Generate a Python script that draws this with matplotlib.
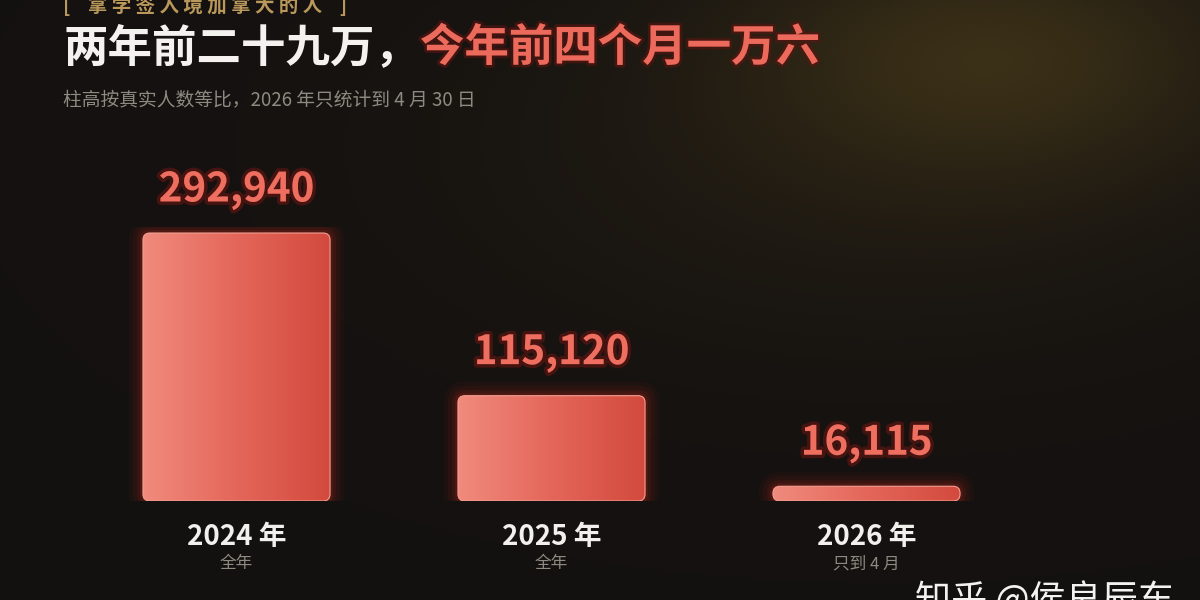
import numpy as np
import matplotlib
matplotlib.use("Agg")
import matplotlib.pyplot as plt
from matplotlib.patches import FancyBboxPatch
import matplotlib.patheffects as pe

plt.rcParams['font.family'] = ['Noto Sans CJK SC', 'DejaVu Sans']

# data
years = ["2024 年", "2025 年", "2026 年"]
notes = ["全年", "全年", "只到 4 月"]
counts = [292940, 115120, 16115]

fig = plt.figure(figsize=(12, 6), dpi=100)
fig.patch.set_facecolor("#141110")

# background with a soft golden glow top right
bg = fig.add_axes([0, 0, 1, 1])
bg.set_axis_off()
gx, gy = np.meshgrid(np.linspace(0, 1200, 300), np.linspace(0, 600, 150))
glow = np.exp(-(((gx - 1000) / 240) ** 2 + ((gy - 50) / 120) ** 2))
glow2 = np.exp(-(((gx - 880) / 420) ** 2 + ((gy - 150) / 200) ** 2))
base = np.array([0.078, 0.067, 0.063])
gold = np.array([0.27, 0.22, 0.10])
img = base + glow[..., None] * (gold - base) * 0.6 + glow2[..., None] * (gold - base) * 0.25
bg.imshow(np.clip(img, 0, 1), extent=[0, 1200, 600, 0], aspect="auto")
bg.set_xlim(0, 1200)
bg.set_ylim(600, 0)

# bar axes
ax = fig.add_axes([79 / 1200, 99 / 600, 945 / 1200, 274.45 / 600])
ax.set_axis_off()
ax.set_xlim(-0.5, 2.5)
ax.set_ylim(0, 300000)
x = np.arange(len(counts))
bars = ax.bar(x, counts, width=0.594, color="none")

px_x = 945 / 3
px_y = 274.45 / 300000
asp = px_x / px_y
grad = np.linspace(0, 1, 256)[None, :]
cmap = matplotlib.colors.LinearSegmentedColormap.from_list("bar", ["#f08b7d", "#e4665a", "#d24a3d"])

for b, v in zip(bars, counts):
    bx, by, bw, bh = b.get_x(), b.get_y(), b.get_width(), b.get_height()
    r = 7 / px_x
    # glow
    for k, a in [(14, 0.06), (10, 0.08), (6, 0.12), (3, 0.18)]:
        p = k / px_x
        g = FancyBboxPatch((bx, by), bw, bh, boxstyle=f"round,pad={p},rounding_size={r + p}",
                           mutation_aspect=asp, fc="#b0261c", ec="none", alpha=a, zorder=1)
        ax.add_patch(g)
    patch = FancyBboxPatch((bx, by), bw, bh, boxstyle=f"round,pad=0,rounding_size={r}",
                           mutation_aspect=asp, fc="none", ec="#f3a093", lw=0.8, zorder=3)
    ax.add_patch(patch)
    im = ax.imshow(grad, extent=[bx, bx + bw, by, by + bh], aspect="auto", cmap=cmap, zorder=2)
    im.set_clip_path(patch)
    ax.annotate(f"{v:,}", (b.get_x() + bw / 2, v), xytext=(0, 31), textcoords="offset points",
                ha="center", va="center", fontsize=29, fontweight="bold", color="#ee6e60",
                path_effects=[pe.withStroke(linewidth=5, foreground="#5a1510", alpha=0.7)], zorder=4)

ax.set_xlim(-0.5, 2.5)
ax.set_ylim(0, 300000)

for xi, yr, nt in zip(x, years, notes):
    ax.annotate(yr, (xi, 0), xytext=(0, -26), textcoords="offset points", ha="center", va="center",
                fontsize=20, fontweight="bold", color="#f2f0ec", annotation_clip=False)
    ax.annotate(nt, (xi, 0), xytext=(0, -45), textcoords="offset points", ha="center", va="center",
                fontsize=12, color="#8f8a80", annotation_clip=False)

# titles
fig.text(63 / 1200, 1 - 5 / 600, "[    拿 学 签 入 境 加 拿 大 的 人    ]", ha="left", va="center",
         fontsize=14, fontweight="bold", color="#b9985a")
fig.text(63 / 1200, 1 - 48 / 600, "两年前二十九万，", ha="left", va="center",
         fontsize=32, fontweight="bold", color="#f4f2ee")
fig.text(420 / 1200, 1 - 48 / 600, "今年前四个月一万六", ha="left", va="center",
         fontsize=32, fontweight="bold", color="#ec6a5c",
         path_effects=[pe.withStroke(linewidth=4, foreground="#5a1510", alpha=0.6)])
fig.text(63 / 1200, 1 - 100 / 600, "柱高按真实人数等比，2026 年只统计到 4 月 30 日", ha="left", va="center",
         fontsize=13.5, color="#8f8a80")

# watermark
fig.text(915 / 1200, 1 - 600 / 600, "知乎 @侯良辰东", ha="left", va="center",
         fontsize=26, color="#f4f2ee")

fig.savefig("out.png", dpi=100, facecolor=fig.get_facecolor())
